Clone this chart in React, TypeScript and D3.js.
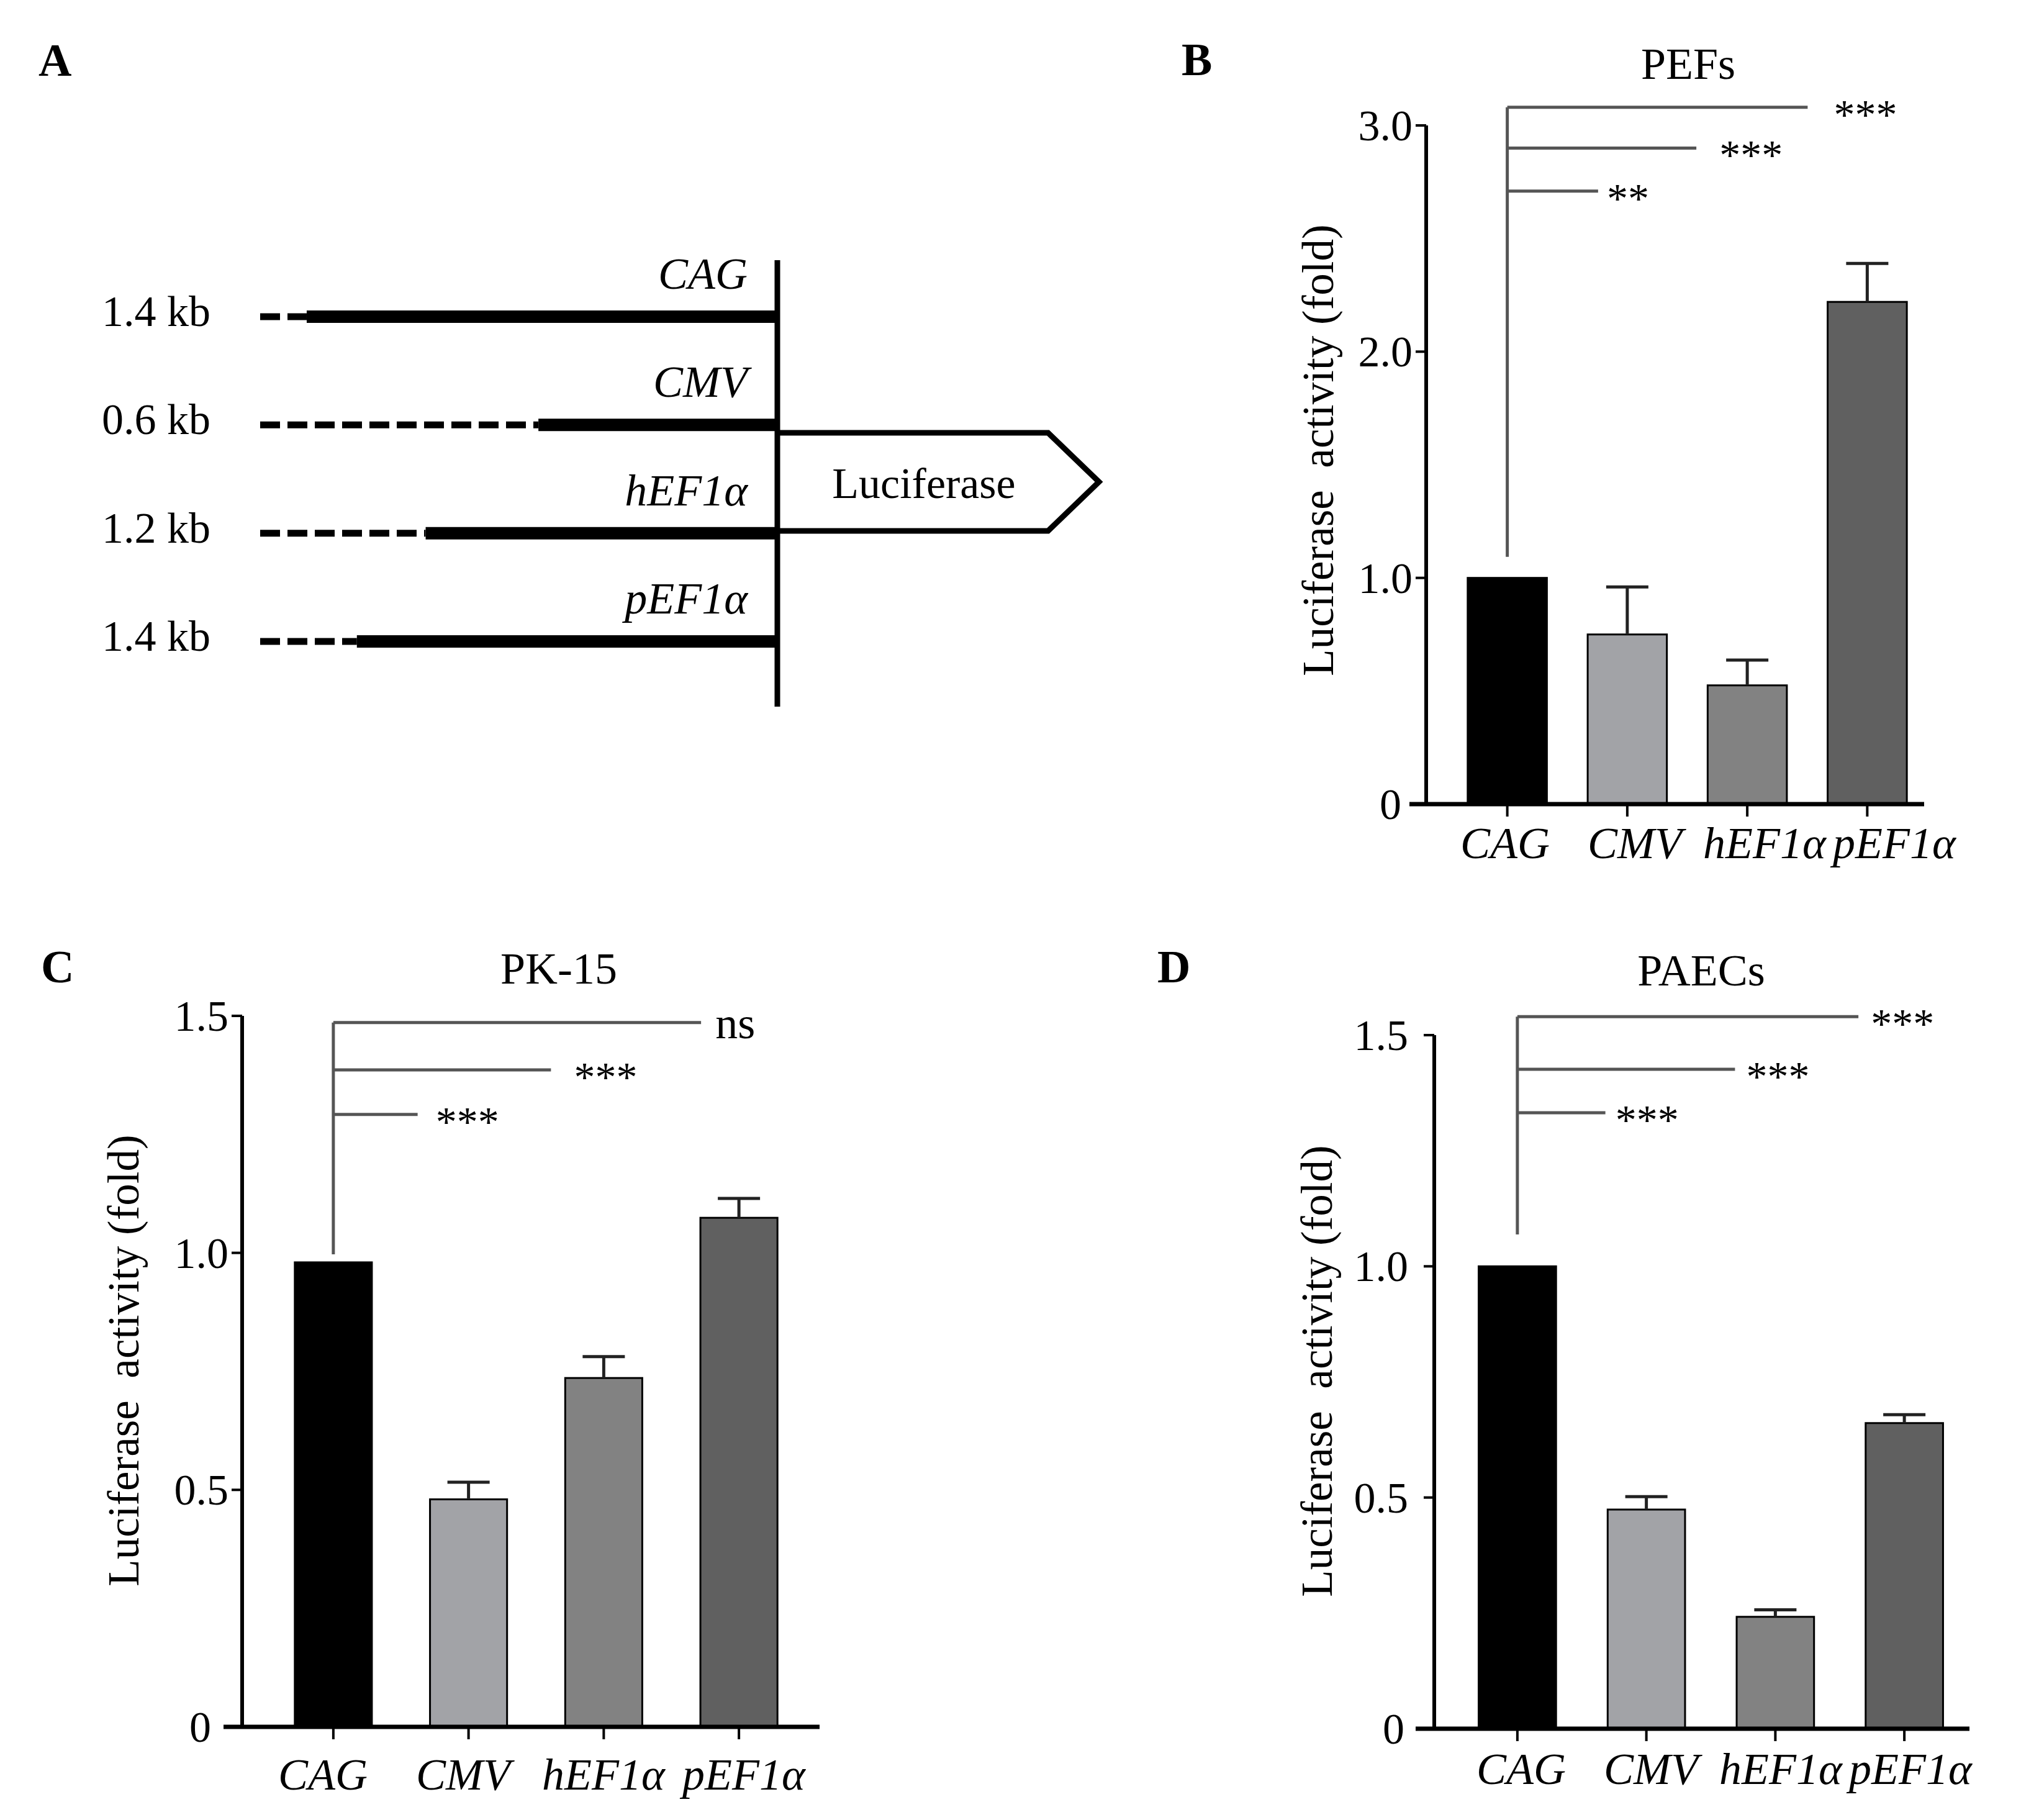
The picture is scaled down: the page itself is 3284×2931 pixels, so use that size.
import React from "react";
import * as d3 from "d3";

const FONT = "'Liberation Serif', 'Times New Roman', serif";

const categories = ["CAG", "CMV", "hEF1α", "pEF1α"];
const barColors = ["#000000", "#a2a3a7", "#828282", "#606060"];

// B - PEFs
const pefsMeans = [1.0, 0.75, 0.525, 2.22];
const pefsErrors = [0, 0.21, 0.112, 0.17];
const pefsTicks = [0, 1, 2, 3];
const pefsSig = [
  { target: "CMV", level: 2.71, text: "**" },
  { target: "hEF1α", level: 2.9, text: "***" },
  { target: "pEF1α", level: 3.08, text: "***" },
];

// C - PK-15
const pk15Means = [0.98, 0.48, 0.736, 1.074];
const pk15Errors = [0, 0.036, 0.045, 0.041];
const pk15Ticks = [0, 0.5, 1, 1.5];
const pk15Sig = [
  { target: "CMV", level: 1.292, text: "***" },
  { target: "hEF1α", level: 1.386, text: "***" },
  { target: "pEF1α", level: 1.486, text: "ns" },
];

// D - PAECs
const paecsMeans = [1.0, 0.474, 0.242, 0.661];
const paecsErrors = [0, 0.028, 0.015, 0.018];
const paecsTicks = [0, 0.5, 1, 1.5];
const paecsSig = [
  { target: "CMV", level: 1.332, text: "***" },
  { target: "hEF1α", level: 1.426, text: "***" },
  { target: "pEF1α", level: 1.54, text: "***" },
];

// A - constructs
const promoterSizes = ["1.4 kb", "0.6 kb", "1.2 kb", "1.4 kb"];
const solidStart = [0.09, 0.538, 0.32, 0.187];

interface PanelProps {
  letter: string;
  letterPos: [number, number];
  title: string;
  titlePos: [number, number];
  means: number[];
  errors: number[];
  ticks: number[];
  yMax: number;
  axisX: number;
  yRange: [number, number];
  xAxisExtent: [number, number];
  band: [number, number];
  padding: number;
  labelRange: [number, number];
  labelY: number;
  tickGap: number;
  zeroGap: number;
  yTitlePos: [number, number];
  sig: { target: string; level: number; text: string }[];
  sigEnds: number[];
  sigGaps: number[];
  stemBottom: number;
}

const BarPanel = (p: PanelProps) => {
  const y = d3.scaleLinear().domain([0, p.yMax]).range(p.yRange);
  const x = d3
    .scaleBand()
    .domain(categories)
    .range(p.band)
    .paddingInner(p.padding)
    .paddingOuter(p.padding / 2);
  const lx = d3.scalePoint().domain(categories).range(p.labelRange);
  const cx = (c: string) => (x(c) as number) + x.bandwidth() / 2;
  const fmt = (t: number) => (t === 0 ? "0" : d3.format(".1f")(t));
  const base = y(0);
  const stemX = cx(categories[0]);
  const topLevel = d3.max(p.sig, (s) => s.level) as number;

  return (
    <g fontFamily={FONT}>
      <text x={p.letterPos[0]} y={p.letterPos[1]} fontSize={74} fontWeight="bold">
        {p.letter}
      </text>
      <text x={p.titlePos[0]} y={p.titlePos[1]} fontSize={72} textAnchor="middle">
        {p.title}
      </text>
      <text
        transform={`translate(${p.yTitlePos[0]},${p.yTitlePos[1]}) rotate(-90)`}
        fontSize={71}
        textAnchor="middle"
        style={{ whiteSpace: "pre" }}
      >
        {"Luciferase  activity (fold)"}
      </text>

      {/* bars */}
      {categories.map((c, i) => (
        <rect
          key={c}
          x={x(c)}
          y={y(p.means[i])}
          width={x.bandwidth()}
          height={base - y(p.means[i])}
          fill={barColors[i]}
          stroke="#000"
          strokeWidth={3}
        />
      ))}

      {/* error bars */}
      {categories.map((c, i) =>
        p.errors[i] > 0 ? (
          <g key={c} stroke="#222" strokeWidth={5}>
            <line x1={cx(c)} x2={cx(c)} y1={y(p.means[i])} y2={y(p.means[i] + p.errors[i])} />
            <line
              x1={cx(c) - 34}
              x2={cx(c) + 34}
              y1={y(p.means[i] + p.errors[i])}
              y2={y(p.means[i] + p.errors[i])}
            />
          </g>
        ) : null
      )}

      {/* y axis */}
      <line x1={p.axisX} x2={p.axisX} y1={y(p.yMax)} y2={base} stroke="#000" strokeWidth={6} />
      {p.ticks.map((t) => (
        <g key={t}>
          <line x1={p.axisX - 17} x2={p.axisX} y1={y(t)} y2={y(t)} stroke="#000" strokeWidth={4} />
          <text
            x={p.axisX - (t === 0 ? p.zeroGap : p.tickGap)}
            y={y(t) + 24}
            fontSize={70}
            textAnchor="end"
          >
            {fmt(t)}
          </text>
        </g>
      ))}

      {/* x axis */}
      <line x1={p.xAxisExtent[0]} x2={p.xAxisExtent[1]} y1={base} y2={base} stroke="#000" strokeWidth={7} />
      {categories.map((c) => (
        <line key={c} x1={cx(c)} x2={cx(c)} y1={base} y2={base + 20} stroke="#000" strokeWidth={4} />
      ))}
      {categories.map((c) => (
        <text key={c} x={lx(c)} y={p.labelY} fontSize={72} fontStyle="italic" textAnchor="middle">
          {c}
        </text>
      ))}

      {/* significance brackets */}
      <g stroke="#555" strokeWidth={5} fill="none">
        <line x1={stemX} x2={stemX} y1={y(p.stemBottom)} y2={y(topLevel)} />
        {p.sig.map((s, i) => (
          <line key={i} x1={stemX} x2={cx(s.target) + p.sigEnds[i]} y1={y(s.level)} y2={y(s.level)} />
        ))}
      </g>
      {p.sig.map((s, i) => (
        <text
          key={i}
          x={cx(s.target) + p.sigEnds[i] + p.sigGaps[i]}
          y={y(s.level) + (s.text === "ns" ? 25 : 34)}
          fontSize={s.text === "ns" ? 72 : 68}
        >
          {s.text}
        </text>
      ))}
    </g>
  );
};

const ConstructPanel = () => {
  const track = d3.scaleLinear().domain([0, 1]).range([419, 1252]);
  const row = d3.scalePoint().domain(categories).range([510, 1033]);
  const vx = track(1);
  return (
    <g fontFamily={FONT}>
      <text x={62} y={122} fontSize={74} fontWeight="bold">
        A
      </text>
      {categories.map((c, i) => {
        const ry = row(c) as number;
        const s = track(solidStart[i]);
        return (
          <g key={c}>
            <line x1={track(0)} x2={s} y1={ry} y2={ry} stroke="#000" strokeWidth={11} strokeDasharray="32 12" />
            <line x1={s} x2={vx} y1={ry} y2={ry} stroke="#000" strokeWidth={20} />
            <text x={339} y={ry + 15} fontSize={70} textAnchor="end">
              {promoterSizes[i]}
            </text>
            <text x={1204} y={ry - 45} fontSize={72} fontStyle="italic" textAnchor="end">
              {c}
            </text>
          </g>
        );
      })}
      <line x1={vx} x2={vx} y1={419} y2={1138} stroke="#000" strokeWidth={9} />
      <path
        d={`M${vx},697 L1688,697 L1770,776 L1688,855 L${vx},855`}
        fill="none"
        stroke="#000"
        strokeWidth={9}
        strokeLinejoin="miter"
      />
      <text x={1488} y={802} fontSize={70} textAnchor="middle">
        Luciferase
      </text>
    </g>
  );
};

export default function App() {
  return (
    <svg
      width={3284}
      height={2931}
      style={{ position: "absolute", left: 0, top: 0, background: "#fff" }}
    >
      <rect width={3284} height={2931} fill="#fff" />
      <ConstructPanel />
      <BarPanel
        letter="B"
        letterPos={[1903, 121]}
        title="PEFs"
        titlePos={[2719, 127]}
        means={pefsMeans}
        errors={pefsErrors}
        ticks={pefsTicks}
        yMax={3}
        axisX={2297}
        yRange={[1295, 202]}
        xAxisExtent={[2270, 3099]}
        band={[2331, 3104]}
        padding={0.34}
        labelRange={[2424, 3051]}
        labelY={1382}
        tickGap={22}
        zeroGap={40}
        yTitlePos={[2147, 725]}
        sig={pefsSig}
        sigEnds={[-47, -82, -96]}
        sigGaps={[14, 37, 42]}
        stemBottom={1.093}
      />
      <BarPanel
        letter="C"
        letterPos={[66, 1582]}
        title="PK-15"
        titlePos={[900, 1584]}
        means={pk15Means}
        errors={pk15Errors}
        ticks={pk15Ticks}
        yMax={1.5}
        axisX={390}
        yRange={[2781, 1636]}
        xAxisExtent={[360, 1320]}
        band={[428, 1299]}
        padding={0.43}
        labelRange={[520, 1198]}
        labelY={2882}
        tickGap={22}
        zeroGap={50}
        yTitlePos={[223, 2191]}
        sig={pk15Sig}
        sigEnds={[-82, -85, -61]}
        sigGaps={[29, 37, 23]}
        stemBottom={0.997}
      />
      <BarPanel
        letter="D"
        letterPos={[1864, 1582]}
        title="PAECs"
        titlePos={[2740, 1587]}
        means={paecsMeans}
        errors={paecsErrors}
        ticks={paecsTicks}
        yMax={1.5}
        axisX={2310}
        yRange={[2784, 1667]}
        xAxisExtent={[2280, 3172]}
        band={[2340, 3171]}
        padding={0.4}
        labelRange={[2450, 3077]}
        labelY={2873}
        tickGap={42}
        zeroGap={48}
        yTitlePos={[2145, 2208]}
        sig={paecsSig}
        sigEnds={[-66, -65, -74]}
        sigGaps={[16, 18, 20]}
        stemBottom={1.069}
      />
    </svg>
  );
}
